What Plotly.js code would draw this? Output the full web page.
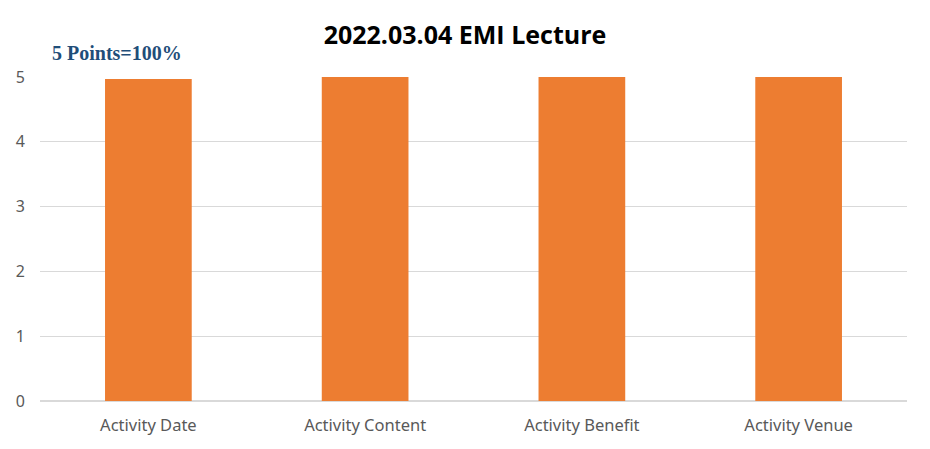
<!DOCTYPE html>
<html><head><meta charset="utf-8">
<script src="https://cdn.plot.ly/plotly-3.0.1.min.js"></script>
<style>html,body{margin:0;padding:0;background:#fff}</style>
</head><body>
<div id="chart" style="width:930px;height:449px"></div>
<script>
const categories = ["Activity Date", "Activity Content", "Activity Benefit", "Activity Venue"];
const scores = [4.97, 5, 5, 5];
const yTicks = [0, 1, 2, 3, 4, 5];
const chartTitle = "2022.03.04 EMI Lecture";
const noteText = "5 Points=100%";

const trace = {
  type: "bar",
  x: categories,
  y: scores,
  marker: {color: "#ED7D31"},
  hoverinfo: "x+y"
};

const layout = {
  width: 930, height: 449,
  margin: {l: 40, r: 23, t: 77, b: 48},
  paper_bgcolor: "#fff", plot_bgcolor: "#fff",
  bargap: 0.6,
  showlegend: false,
  title: {text: "<b>" + chartTitle + "</b>", x: 0.5, xanchor: "center", y: 0.922, yanchor: "middle",
          font: {family: "Open Sans, Noto Sans, sans-serif", size: 25, color: "#000"}},
  xaxis: {type: "category", showgrid: false, showline: false, zeroline: false, ticks: "",
          ticklabelstandoff: 12,
          tickfont: {family: "Noto Sans, sans-serif", size: 16.5, color: "#595959"}},
  yaxis: {range: [0, 5], tickvals: yTicks, showgrid: true, gridcolor: "#D9D9D9", gridwidth: 1.3,
          zeroline: true, zerolinecolor: "#D9D9D9", zerolinewidth: 1.3, showline: false, ticks: "",
          ticklabelstandoff: 14,
          tickfont: {family: "Noto Sans, sans-serif", size: 16, color: "#595959"}},
  shapes: [{type: "rect", xref: "paper", yref: "paper", x0: 0, x1: 0.2007, y0: 0.995, y1: 1.01,
            fillcolor: "#fff", line: {width: 0}, layer: "above"}],
  annotations: [{text: "<b>" + noteText + "</b>", xref: "paper", yref: "paper", x: 0.0888, y: 1.074,
                 xanchor: "center", yanchor: "middle", showarrow: false,
                 font: {family: "Liberation Serif, serif", size: 20, color: "#1F4E79"}}]
};

Plotly.newPlot("chart", [trace], layout, {displayModeBar: false, staticPlot: true});
</script>
</body></html>
